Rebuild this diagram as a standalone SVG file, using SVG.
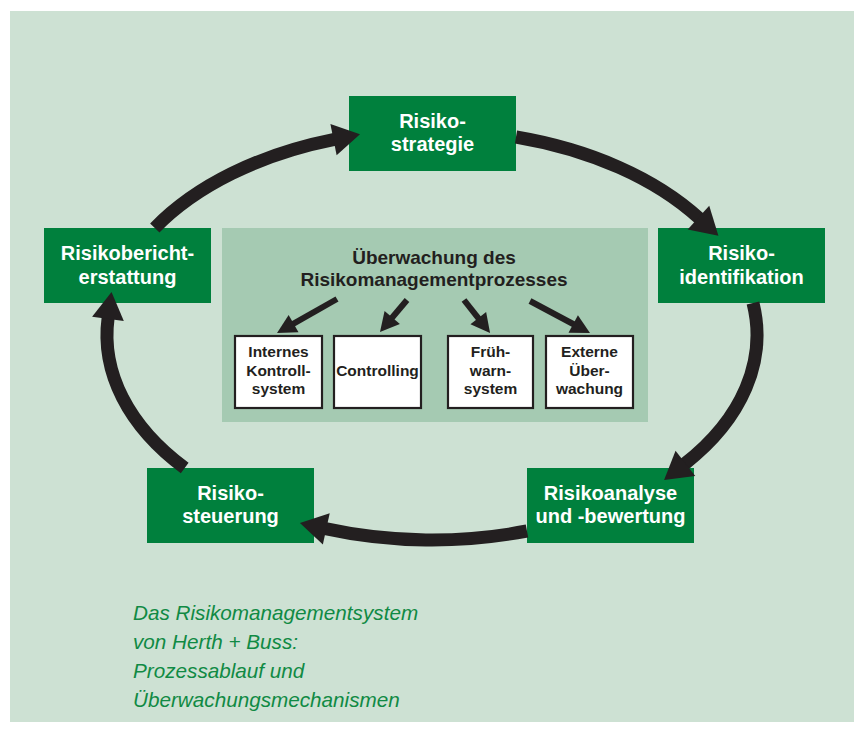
<svg xmlns="http://www.w3.org/2000/svg" width="854" height="731" viewBox="0 0 854 731">
  <defs>
    <style>
      .panel { fill: #cde1d3; }
      .inner { fill: #a5cab2; }
      .step { fill: #00803d; }
      .step-label { font-family: "Liberation Sans", Arial, sans-serif; font-weight: bold; font-size: 20px; fill: #ffffff; text-anchor: middle; }
      .title { font-family: "Liberation Sans", Arial, sans-serif; font-weight: bold; font-size: 19px; fill: #231f20; text-anchor: middle; }
      .sub { fill: #ffffff; stroke: #231f20; stroke-width: 2.2; }
      .sub-label { font-family: "Liberation Sans", Arial, sans-serif; font-weight: bold; font-size: 15.5px; fill: #231f20; text-anchor: middle; }
      .ring { fill: none; stroke: #231f20; stroke-width: 13; }
      .branch { fill: none; stroke: #231f20; stroke-width: 6; }
      .caption { font-family: "Liberation Sans", Arial, sans-serif; font-style: italic; font-size: 20.7px; fill: #108a44; }
    </style>
    <marker id="bigHead" markerUnits="userSpaceOnUse" orient="auto" refX="1" refY="0" markerWidth="30" markerHeight="34" viewBox="0 -17 30 34" overflow="visible">
      <path d="M0,-16 L27,0 L0,16 Z" fill="#231f20"/>
    </marker>
    <marker id="smallHead" markerUnits="userSpaceOnUse" orient="auto" refX="1" refY="0" markerWidth="20" markerHeight="22" viewBox="0 -11 20 22" overflow="visible">
      <path d="M0,-10 L19,0 L0,10 Z" fill="#231f20"/>
    </marker>
  </defs>

  <!-- background panel -->
  <rect class="panel" x="10" y="11" width="844" height="711"/>

  <!-- monitoring panel in the middle -->
  <g id="monitoring">
    <rect class="inner" x="222" y="228" width="426" height="194"/>
    <text class="title" x="434" y="264">Überwachung des</text>
    <text class="title" x="434" y="286">Risikomanagementprozesses</text>
  </g>

  <g id="internes-kontrollsystem">
    <rect class="sub" x="235" y="336" width="87" height="72"/>
    <text class="sub-label" x="278.5" y="357">Internes</text>
    <text class="sub-label" x="278.5" y="375.5">Kontroll-</text>
    <text class="sub-label" x="278.5" y="394">system</text>
  </g>
  <g id="controlling">
    <rect class="sub" x="334" y="336" width="87" height="72"/>
    <text class="sub-label" x="377.5" y="376">Controlling</text>
  </g>
  <g id="fruehwarnsystem">
    <rect class="sub" x="448" y="336" width="85" height="72"/>
    <text class="sub-label" x="490.5" y="357">Früh-</text>
    <text class="sub-label" x="490.5" y="375.5">warn-</text>
    <text class="sub-label" x="490.5" y="394">system</text>
  </g>
  <g id="externe-ueberwachung">
    <rect class="sub" x="546" y="336" width="87" height="72"/>
    <text class="sub-label" x="589.5" y="357">Externe</text>
    <text class="sub-label" x="589.5" y="375.5">Über-</text>
    <text class="sub-label" x="589.5" y="394">wachung</text>
  </g>

  <!-- process steps -->
  <g id="risikostrategie">
    <rect class="step" x="349" y="96" width="167" height="75"/>
    <text class="step-label" x="432.5" y="128">Risiko-</text>
    <text class="step-label" x="432.5" y="151">strategie</text>
  </g>
  <g id="risikoidentifikation">
    <rect class="step" x="658" y="228" width="167" height="75"/>
    <text class="step-label" x="741.5" y="260">Risiko-</text>
    <text class="step-label" x="741.5" y="283.5">identifikation</text>
  </g>
  <g id="risikoanalyse">
    <rect class="step" x="527" y="468" width="167" height="75"/>
    <text class="step-label" x="610.5" y="500">Risikoanalyse</text>
    <text class="step-label" x="610.5" y="523">und -bewertung</text>
  </g>
  <g id="risikosteuerung">
    <rect class="step" x="147" y="468" width="167" height="75"/>
    <text class="step-label" x="230.5" y="500">Risiko-</text>
    <text class="step-label" x="230.5" y="523">steuerung</text>
  </g>
  <g id="risikoberichterstattung">
    <rect class="step" x="44" y="228" width="167" height="75"/>
    <text class="step-label" x="127.5" y="260">Risikobericht-</text>
    <text class="step-label" x="127.5" y="283.5">erstattung</text>
  </g>

  <!-- connectors: elliptical cycle (centre 432,335; radii 325/205) and monitoring branches -->
  <g id="connectors">
    <path class="ring" marker-end="url(#bigHead)" d="M154.8,228 A325,205 0 0 1 334.5,139.4"/>
    <path class="ring" marker-end="url(#bigHead)" d="M516,137 A325,205 0 0 1 699.2,218.3"/>
    <path class="ring" marker-end="url(#bigHead)" d="M753,303 A325,205 0 0 1 684.6,464"/>
    <path class="ring" marker-end="url(#bigHead)" d="M527,531 A325,205 0 0 1 325.3,528.6"/>
    <path class="ring" marker-end="url(#bigHead)" d="M184.7,468 A325,205 0 0 1 108.1,317.8"/>

    <line class="branch" marker-end="url(#smallHead)" x1="337" y1="299" x2="292.7" y2="324.1"/>
    <line class="branch" marker-end="url(#smallHead)" x1="407" y1="300" x2="391.6" y2="318.3"/>
    <line class="branch" marker-end="url(#smallHead)" x1="464" y1="300" x2="478.9" y2="318.9"/>
    <line class="branch" marker-end="url(#smallHead)" x1="530" y1="301" x2="574.1" y2="324.5"/>
  </g>

  <!-- caption -->
  <g id="caption">
    <text class="caption" x="133" y="620">Das Risikomanagementsystem</text>
    <text class="caption" x="133" y="649">von Herth + Buss:</text>
    <text class="caption" x="133" y="678">Prozessablauf und</text>
    <text class="caption" x="133" y="707">Überwachungsmechanismen</text>
  </g>
</svg>
